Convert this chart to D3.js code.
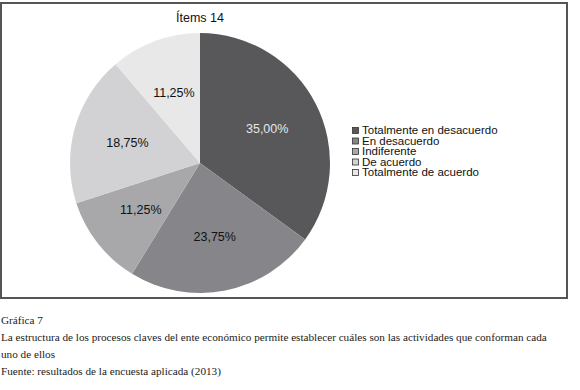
<!DOCTYPE html>
<html>
<head>
<meta charset="utf-8">
<script src="https://cdn.jsdelivr.net/npm/d3@7"></script>
<style>
  body { margin: 0; background: #fff; }
  svg { display: block; }
</style>
</head>
<body>
<div id="chart"></div>
<script>
// answers to item 14 (percent)
const categories = ["Totalmente en desacuerdo", "En desacuerdo", "Indiferente", "De acuerdo", "Totalmente de acuerdo"];
const values = [35.00, 23.75, 11.25, 18.75, 11.25];
const colors = ["#58585a", "#86868a", "#a8a8aa", "#d2d2d4", "#e8e8e9"];
const chartTitle = "Ítems 14";
const captionLines = [
    "Gráfica 7",
    "La estructura de los procesos claves del ente económico permite establecer cuáles son las actividades que conforman cada",
    "uno de ellos",
    "Fuente: resultados de la encuesta aplicada (2013)"
];

const width = 580,
    height = 390,
    cx = 200, cy = 163, r = 130;

const sans = "'Liberation Sans', Arial, sans-serif";

let svg = d3.select('#chart')
    .append('svg')
    .attr('width', width)
    .attr('height', height)
    .attr('viewBox', [0, 0, width, height]);

// frame round the chart area
svg.append('rect')
    .attr('x', 1).attr('y', 3)
    .attr('width', 566).attr('height', 295)
    .attr('fill', 'none')
    .attr('stroke', '#555')
    .attr('stroke-width', 2);

svg.append('text')
    .attr('x', cx).attr('y', 22)
    .attr('text-anchor', 'middle')
    .attr('font-family', sans)
    .attr('font-size', 12.5)
    .attr('fill', '#111')
    .text(chartTitle);

const pie = d3.pie().sort(null).value(d => d);
const arcs = pie(values);
const arc = d3.arc().innerRadius(0).outerRadius(r);
const labelArc = d3.arc().innerRadius(r * 0.58).outerRadius(r * 0.58);

let g = svg.append('g').attr('transform', `translate(${cx},${cy})`);

g.selectAll('path')
    .data(arcs)
    .join('path')
    .attr('d', arc)
    .attr('fill', (d, i) => colors[i]);

g.selectAll('text')
    .data(arcs)
    .join('text')
    .attr('transform', d => `translate(${labelArc.centroid(d)})`)
    .attr('text-anchor', 'middle')
    .attr('dy', '0.35em')
    .attr('font-family', sans)
    .attr('font-size', 12.5)
    .attr('fill', (d, i) => i === 0 ? '#e6e6e6' : '#111')
    .text(d => d3.format('.2f')(d.data).replace('.', ',') + '%');

// legend
let y = d3.scaleBand()
    .domain(categories)
    .range([125, 177.5]);

let legend = svg.append('g')
    .selectAll('g')
    .data(categories)
    .join('g')
    .attr('transform', d => `translate(352, ${y(d)})`);

legend.append('rect')
    .attr('x', 0.5).attr('y', 2.5)
    .attr('width', 6).attr('height', 6)
    .attr('fill', (d, i) => colors[i])
    .attr('stroke', '#333')
    .attr('stroke-width', 0.8);

legend.append('text')
    .attr('x', 10)
    .attr('y', y.bandwidth() / 2)
    .attr('dy', '0.35em')
    .attr('font-family', sans)
    .attr('font-size', 11.5)
    .attr('fill', '#111')
    .text(d => d);

// caption below the frame
svg.append('g')
    .selectAll('text')
    .data(captionLines)
    .join('text')
    .attr('x', 1)
    .attr('y', (d, i) => 324 + i * 17)
    .attr('font-family', "'Liberation Serif', 'DejaVu Serif', serif")
    .attr('font-size', 11.2)
    .attr('fill', '#222')
    .text(d => d);
</script>
</body>
</html>
